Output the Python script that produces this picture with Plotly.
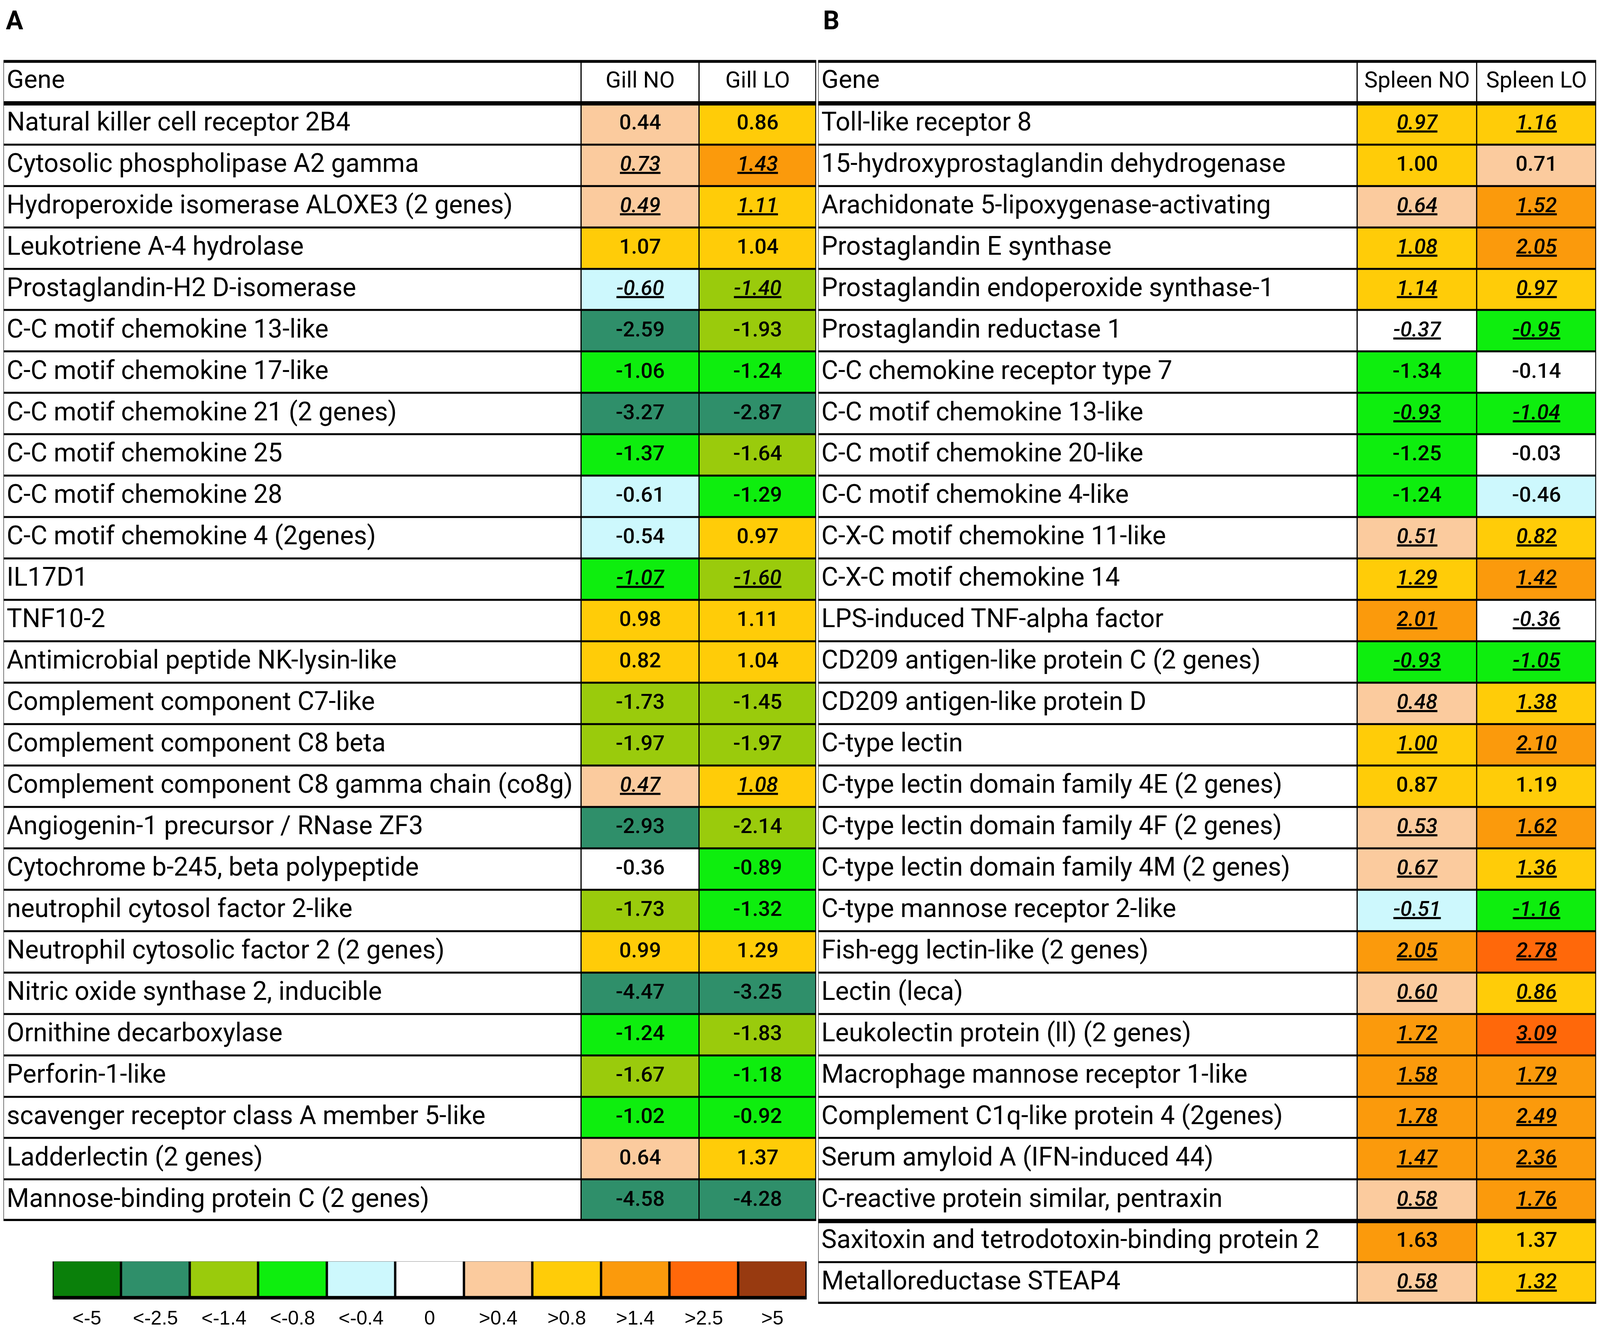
import plotly.graph_objects as go

# ---- data -------------------------------------------------------------
genes_a = [
    "Natural killer cell receptor 2B4",
    "Cytosolic phospholipase A2 gamma",
    "Hydroperoxide isomerase ALOXE3 (2 genes)",
    "Leukotriene A-4 hydrolase",
    "Prostaglandin-H2 D-isomerase",
    "C-C motif chemokine 13-like",
    "C-C motif chemokine 17-like",
    "C-C motif chemokine 21 (2 genes)",
    "C-C motif chemokine 25",
    "C-C motif chemokine 28",
    "C-C motif chemokine 4 (2genes)",
    "IL17D1",
    "TNF10-2",
    "Antimicrobial peptide NK-lysin-like",
    "Complement component C7-like",
    "Complement component C8 beta",
    "Complement component C8 gamma chain (co8g)",
    "Angiogenin-1 precursor / RNase ZF3",
    "Cytochrome b-245, beta polypeptide",
    "neutrophil cytosol factor 2-like",
    "Neutrophil cytosolic factor 2 (2 genes)",
    "Nitric oxide synthase 2, inducible",
    "Ornithine decarboxylase",
    "Perforin-1-like",
    "scavenger receptor class A member 5-like",
    "Ladderlectin (2 genes)",
    "Mannose-binding protein C (2 genes)",
]
gill_no = [0.44, 0.73, 0.49, 1.07, -0.60, -2.59, -1.06, -3.27, -1.37, -0.61,
           -0.54, -1.07, 0.98, 0.82, -1.73, -1.97, 0.47, -2.93, -0.36, -1.73,
           0.99, -4.47, -1.24, -1.67, -1.02, 0.64, -4.58]
gill_lo = [0.86, 1.43, 1.11, 1.04, -1.40, -1.93, -1.24, -2.87, -1.64, -1.29,
           0.97, -1.60, 1.11, 1.04, -1.45, -1.97, 1.08, -2.14, -0.89, -1.32,
           1.29, -3.25, -1.83, -1.18, -0.92, 1.37, -4.28]
# underlined / italic values
gill_marked = [0, 1, 1, 0, 1, 0, 0, 0, 0, 0, 0, 1, 0, 0, 0, 0, 1, 0, 0, 0,
               0, 0, 0, 0, 0, 0, 0]

genes_b = [
    "Toll-like receptor 8",
    "15-hydroxyprostaglandin dehydrogenase",
    "Arachidonate 5-lipoxygenase-activating",
    "Prostaglandin E synthase",
    "Prostaglandin endoperoxide synthase-1",
    "Prostaglandin reductase 1",
    "C-C chemokine receptor type 7",
    "C-C motif chemokine 13-like",
    "C-C motif chemokine 20-like",
    "C-C motif chemokine 4-like",
    "C-X-C motif chemokine 11-like",
    "C-X-C motif chemokine 14",
    "LPS-induced TNF-alpha factor",
    "CD209 antigen-like protein C (2 genes)",
    "CD209 antigen-like protein D",
    "C-type lectin",
    "C-type lectin domain family 4E (2 genes)",
    "C-type lectin domain family 4F (2 genes)",
    "C-type lectin domain family 4M (2 genes)",
    "C-type mannose receptor 2-like",
    "Fish-egg lectin-like (2 genes)",
    "Lectin (leca)",
    "Leukolectin protein (ll) (2 genes)",
    "Macrophage mannose receptor 1-like",
    "Complement C1q-like protein 4 (2genes)",
    "Serum amyloid A (IFN-induced 44)",
    "C-reactive protein similar, pentraxin",
    "Saxitoxin and tetrodotoxin-binding protein 2",
    "Metalloreductase STEAP4",
]
spleen_no = [0.97, 1.00, 0.64, 1.08, 1.14, -0.37, -1.34, -0.93, -1.25, -1.24,
             0.51, 1.29, 2.01, -0.93, 0.48, 1.00, 0.87, 0.53, 0.67, -0.51,
             2.05, 0.60, 1.72, 1.58, 1.78, 1.47, 0.58, 1.63, 0.58]
spleen_lo = [1.16, 0.71, 1.52, 2.05, 0.97, -0.95, -0.14, -1.04, -0.03, -0.46,
             0.82, 1.42, -0.36, -1.05, 1.38, 2.10, 1.19, 1.62, 1.36, -1.16,
             2.78, 0.86, 3.09, 1.79, 2.49, 2.36, 1.76, 1.37, 1.32]
spleen_marked = [1, 0, 1, 1, 1, 1, 0, 1, 0, 0, 1, 1, 1, 1, 1, 1, 0, 1, 1, 1,
                 1, 1, 1, 1, 1, 1, 1, 0, 1]

legend_labels = ["<-5", "<-2.5", "<-1.4", "<-0.8", "<-0.4", "0",
                 ">0.4", ">0.8", ">1.4", ">2.5", ">5"]
legend_colors = ["#0a800a", "#2f8f6a", "#9acb0c", "#0eee0e", "#cdf8fd", "#ffffff",
                 "#fbcb9e", "#ffcc08", "#fb9a0c", "#ff680a", "#983a10"]
neg_cuts = [-5, -2.5, -1.4, -0.8, -0.4]
pos_cuts = [0.4, 0.8, 1.4, 2.5, 5]


def level(v):
    if v < 0:
        for i, c in enumerate(neg_cuts):
            if v <= c:
                return i
        return 5
    for i, c in enumerate(reversed(pos_cuts)):
        if v > c:
            return 10 - i
    return 5


colorscale = []
for i, c in enumerate(legend_colors):
    colorscale += [[i / 11, c], [(i + 1) / 11, c]]

# ---- geometry ----------------------------------------------------------
# positions are measured on the 4562x3409 original; the browser viewport is
# 4096 wide, so x is squeezed and the 8px body margin is taken off
REF_W, REF_H = 4562, 3409
VIEW_W, VIEW_H = 4096, 3409
BODY = 8
SX = VIEW_W / REF_W
FW, FH = VIEW_W - 2 * BODY, VIEW_H - 2 * BODY

HEAD_H = 111
ROW_H = 106.2
TOP = 154


def clamp(v):
    return min(1.0, max(0.0, v))


def dom_x(r0, r1):
    return [clamp((r0 * SX - BODY) / FW), clamp((r1 * SX - BODY) / FW)]


def dom_y(top, bottom):
    return [clamp(1 - (bottom - BODY) / FH), clamp(1 - (top - BODY) / FH)]


GENE_FONT = "Roboto"
VAL_FONT = "Roboto"

fig = go.Figure()


def fmt(v, m):
    s = f"{v:.2f}"
    return f"<u><i>{s}</i></u>" if m else s


def add_table(genes, col1, col2, marks, headers, col_w, xa, ya):
    n = len(genes)
    x_edges = [0, col_w[0], col_w[0] + col_w[1], sum(col_w)]
    y_edges = [0, HEAD_H] + [HEAD_H + ROW_H * (i + 1) for i in range(n)]
    z = [[5, 5, 5]] + [[5, level(a), level(b)] for a, b in zip(col1, col2)]
    fig.add_trace(go.Heatmap(x=x_edges, y=y_edges, z=z, colorscale=colorscale,
                             zmin=-0.5, zmax=10.5, showscale=False, xgap=3, ygap=5,
                             hoverinfo="skip", xaxis=xa, yaxis=ya))
    yc = [(y_edges[i] + y_edges[i + 1]) / 2 for i in range(n + 1)]
    xc = [(x_edges[1] + x_edges[2]) / 2, (x_edges[2] + x_edges[3]) / 2]
    fig.add_trace(go.Scatter(x=[9], y=yc[:1], text=[headers[0]],
                             mode="text", textposition="middle right",
                             textfont=dict(family=GENE_FONT, size=65, color="black"),
                             hoverinfo="skip", cliponaxis=False, xaxis=xa, yaxis=ya))
    fig.add_trace(go.Scatter(x=[9] * n, y=yc[1:], text=genes,
                             mode="text", textposition="middle right",
                             textfont=dict(family=GENE_FONT, size=66, color="black"),
                             hoverinfo="skip", cliponaxis=False, xaxis=xa, yaxis=ya))
    fig.add_trace(go.Scatter(x=xc, y=[yc[0]] * 2, text=headers[1:],
                             mode="text", textposition="middle center",
                             textfont=dict(family=GENE_FONT, size=58, color="black"),
                             hoverinfo="skip", xaxis=xa, yaxis=ya))
    vals = [fmt(v, m) for v, m in zip(col1, marks)] + [fmt(v, m) for v, m in zip(col2, marks)]
    fig.add_trace(go.Scatter(x=[xc[0]] * n + [xc[1]] * n, y=yc[1:] * 2, text=vals,
                             mode="text", textposition="middle center",
                             textfont=dict(family=VAL_FONT, size=54, color="black", weight=500),
                             hoverinfo="skip", xaxis=xa, yaxis=ya))
    return HEAD_H + ROW_H * n


# column widths in original pixels
tot_a = add_table(genes_a, gill_no, gill_lo, gill_marked,
                  ["Gene", "Gill NO", "Gill LO"], [1650, 337, 334], "x", "y")
tot_b = add_table(genes_b, spleen_no, spleen_lo, spleen_marked,
                  ["Gene", "Spleen NO", "Spleen LO"], [1537, 341, 340], "x2", "y2")

# colour key
fig.add_trace(go.Heatmap(x=list(range(len(legend_labels))), y=[0],
                         z=[list(range(len(legend_labels)))], colorscale=colorscale,
                         zmin=-0.5, zmax=10.5, showscale=False, xgap=6,
                         hoverinfo="skip", xaxis="x3", yaxis="y3"))

hidden = dict(visible=False, showgrid=False, zeroline=False, fixedrange=True)
fig.update_layout(
    width=FW, height=FH,
    margin=dict(l=0, r=0, t=0, b=0),
    paper_bgcolor="white", plot_bgcolor="black",
    showlegend=False,
    xaxis=dict(domain=dom_x(10, 2327), range=[0, 2321], **hidden),
    yaxis=dict(domain=dom_y(TOP, TOP + tot_a), range=[tot_a, 0], **hidden),
    xaxis2=dict(domain=dom_x(2333, 2333 + 2218), range=[0, 2218], anchor="y2", **hidden),
    yaxis2=dict(domain=dom_y(TOP, TOP + tot_b), range=[tot_b, 0], anchor="x2", **hidden),
    xaxis3=dict(domain=dom_x(150, 2300), range=[-0.5, 10.5], anchor="y3",
                tickvals=list(range(len(legend_labels))),
                ticktext=[t.replace("<", "&lt;").replace(">", "&gt;") for t in legend_labels],
                tickfont=dict(family="Liberation Sans", size=50, color="black"),
                ticks="", ticklabelstandoff=18, showgrid=False, zeroline=False,
                showline=False, fixedrange=True),
    yaxis3=dict(domain=dom_y(3236, 3329), range=[-0.5, 0.5], anchor="x3", **hidden),
)

shapes = []
for xa, ya, tot in [("x", "y", tot_a), ("x2", "y2", tot_b)]:
    for yv, w in [(0, 14), (HEAD_H, 11), (tot, 11)]:
        shapes.append(dict(type="line", xref=f"{xa} domain", yref=ya, x0=0, x1=1,
                           y0=yv, y1=yv, line=dict(color="black", width=w)))
# thick line under row 27 of table B, level with the bottom of table A
shapes.append(dict(type="line", xref="x2 domain", yref="y2", x0=0, x1=1,
                   y0=tot_a, y1=tot_a, line=dict(color="black", width=11)))
shapes.append(dict(type="line", xref="x3 domain", yref="y3 domain", x0=0, x1=1,
                   y0=0, y1=0, line=dict(color="black", width=9)))
fig.update_layout(shapes=shapes)

for txt, xr in [("A", 14), ("B", 2344)]:
    fig.add_annotation(text=f"<b>{txt}</b>", x=clamp((xr * SX - BODY) / FW), y=1 - 4 / FH,
                       xref="paper", yref="paper", xanchor="left", yanchor="top",
                       showarrow=False,
                       font=dict(family="Roboto", size=66, color="black"))

fig.write_html("out.html")
